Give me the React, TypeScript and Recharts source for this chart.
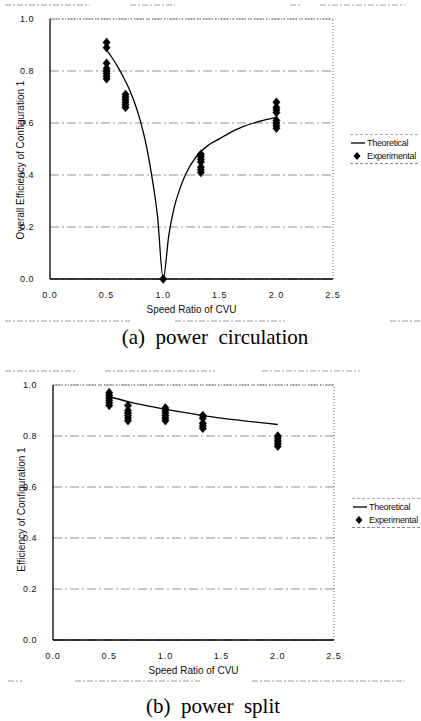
import React from "react";
import {
  ComposedChart,
  Line,
  Scatter,
  XAxis,
  YAxis,
  CartesianGrid,
  ReferenceLine,
} from "recharts";

const xTicks = [0, 0.5, 1.0, 1.5, 2.0, 2.5];
const yTicks = [0, 0.2, 0.4, 0.6, 0.8, 1.0];

// (a) power circulation
const circTheoryX = [0.5, 0.55, 0.6, 0.65, 0.7, 0.75, 0.8, 0.85, 0.9, 0.95, 1.0, 1.05, 1.1, 1.15, 1.2, 1.3, 1.4, 1.5, 1.6, 1.7, 1.8, 1.9, 2.0];
const circTheoryY = [0.88, 0.85, 0.815, 0.775, 0.73, 0.675, 0.605, 0.515, 0.395, 0.24, 0.0, 0.17, 0.28, 0.35, 0.405, 0.475, 0.515, 0.54, 0.565, 0.585, 0.6, 0.612, 0.622];
const circExpX = [
  0.5, 0.5, 0.5, 0.5, 0.5, 0.5, 0.5, 0.5,
  0.667, 0.667, 0.667, 0.667, 0.667, 0.667,
  1.0,
  1.333, 1.333, 1.333, 1.333, 1.333, 1.333, 1.333,
  2.0, 2.0, 2.0, 2.0, 2.0, 2.0, 2.0, 2.0,
];
const circExpY = [
  0.91, 0.89, 0.83, 0.81, 0.8, 0.79, 0.78, 0.77,
  0.71, 0.7, 0.69, 0.68, 0.67, 0.66,
  0.0,
  0.48, 0.47, 0.46, 0.45, 0.43, 0.42, 0.41,
  0.68, 0.66, 0.65, 0.64, 0.61, 0.6, 0.59, 0.58,
];

// (b) power split
const splitTheoryX = [0.5, 0.667, 1.0, 1.333, 1.5, 2.0];
const splitTheoryY = [0.955, 0.935, 0.905, 0.88, 0.87, 0.845];
const splitExpX = [
  0.5, 0.5, 0.5, 0.5, 0.5, 0.5,
  0.667, 0.667, 0.667, 0.667, 0.667, 0.667,
  1.0, 1.0, 1.0, 1.0, 1.0, 1.0,
  1.333, 1.333, 1.333, 1.333, 1.333,
  2.0, 2.0, 2.0, 2.0, 2.0,
];
const splitExpY = [
  0.97, 0.96, 0.95, 0.94, 0.93, 0.92,
  0.92, 0.9, 0.89, 0.88, 0.87, 0.86,
  0.91, 0.9, 0.89, 0.88, 0.87, 0.86,
  0.88, 0.87, 0.85, 0.84, 0.83,
  0.8, 0.79, 0.78, 0.77, 0.76,
];

const legendLabels = ["Theoretical", "Experimental"];

const zip = (xs: number[], ys: number[]) => xs.map((x, i) => ({ x, y: ys[i] }));

const SANS = "'Liberation Sans', Arial, sans-serif";
const SERIF = "'Liberation Serif', 'Times New Roman', serif";

const Diamond = (props: any) => {
  const { cx, cy } = props;
  if (cx == null || cy == null) return null;
  const w = 3.6;
  const h = 4.4;
  return (
    <polygon
      points={`${cx},${cy - h} ${cx + w},${cy} ${cx},${cy + h} ${cx - w},${cy}`}
      fill="#000"
      stroke="#000"
      strokeWidth={0.6}
    />
  );
};

const LegendBox = ({ top, left }: { top: number; left: number }) => (
  <div
    style={{
      position: "absolute",
      top,
      left,
      fontFamily: SANS,
      fontSize: 9,
      color: "#111",
      width: 68,
    }}
  >
    <div style={{ borderTop: "1px dashed #aaa", height: 0, marginBottom: 1 }} />
    <div style={{ display: "flex", alignItems: "center", height: 13 }}>
      <svg width={16} height={6}>
        <line x1={1} y1={3} x2={15} y2={3} stroke="#000" strokeWidth={1.3} />
      </svg>
      <span style={{ marginLeft: 1, letterSpacing: -0.3 }}>{legendLabels[0]}</span>
    </div>
    <div style={{ display: "flex", alignItems: "center", height: 13 }}>
      <svg width={16} height={10}>
        <polygon points="7,1 10.5,5 7,9 3.5,5" fill="#000" />
      </svg>
      <span style={{ marginLeft: 1, letterSpacing: -0.3 }}>{legendLabels[1]}</span>
    </div>
    <div style={{ borderTop: "1px dashed #888", height: 0, marginTop: 1 }} />
  </div>
);

type PanelProps = {
  theory: { x: number; y: number }[];
  exp: { x: number; y: number }[];
  yTitle: string;
  width: number;
  height: number;
  margin: { top: number; right: number; bottom: number; left: number };
  yAxisWidth: number;
  yTitleX: number;
  yTitleShift: number;
};

const Panel = (p: PanelProps) => (
  <ComposedChart width={p.width} height={p.height} margin={p.margin}>
    <CartesianGrid
      horizontal={true}
      vertical={false}
      stroke="#777"
      strokeDasharray="9 3 2 3"
      strokeWidth={0.8}
    />
    <XAxis
      type="number"
      dataKey="x"
      domain={[0, 2.5]}
      ticks={xTicks}
      tickFormatter={(v: number) => v.toFixed(1)}
      axisLine={{ stroke: "#000", strokeWidth: 1.3 }}
      tickLine={false}
      tickMargin={7}
      height={34}
      tick={{ fontFamily: SANS, fontSize: 9, fill: "#111", letterSpacing: 1 }}
      allowDataOverflow
      label={{
        value: "Speed Ratio of CVU",
        position: "insideBottom",
        offset: 0,
        style: { fontFamily: SANS, fontSize: 10, fill: "#111" },
      }}
    />
    <YAxis
      type="number"
      dataKey="y"
      domain={[0, 1]}
      ticks={yTicks}
      tickFormatter={(v: number) => v.toFixed(1)}
      axisLine={{ stroke: "#000", strokeWidth: 1.3 }}
      tickLine={false}
      tickMargin={10}
      width={p.yAxisWidth}
      tick={{ fontFamily: SANS, fontSize: 9, fill: "#111", letterSpacing: 0.5 }}
      label={{
        value: p.yTitle,
        content: (lp: any) => {
          const vb = lp.viewBox || {};
          const cy = (vb.y ?? 0) + (vb.height ?? 0) / 2 + p.yTitleShift;
          const cx = p.yTitleX;
          return (
            <text
              x={cx}
              y={cy}
              transform={`rotate(-90, ${cx}, ${cy})`}
              textAnchor="middle"
              dominantBaseline="central"
              fontFamily={SANS}
              fontSize={10}
              fill="#111"
            >
              {p.yTitle}
            </text>
          );
        },
      }}
    />
    <ReferenceLine y={1} stroke="#666" strokeDasharray="1 2" strokeWidth={1} />
    <ReferenceLine x={2.5} stroke="#666" strokeDasharray="1 2" strokeWidth={1} />
    <Line
      data={p.theory}
      dataKey="y"
      type="monotone"
      stroke="#000"
      strokeWidth={1.3}
      dot={false}
      isAnimationActive={false}
      name="Theoretical"
    />
    <Scatter
      data={p.exp}
      dataKey="y"
      shape={Diamond}
      isAnimationActive={false}
      name="Experimental"
    />
  </ComposedChart>
);

const ScanDashes = ({ y, segs }: { y: number; segs: [number, number][] }) => (
  <svg width={421} height={4} style={{ position: "absolute", left: 0, top: y - 2 }}>
    {segs.map(([a, b], i) => (
      <line key={i} x1={a} y1={2} x2={b} y2={2} stroke="#999" strokeWidth={1} strokeDasharray="6 2 2 2" />
    ))}
  </svg>
);

export default function App() {
  return (
    <div style={{ position: "relative", width: 421, height: 721, background: "#fff", overflow: "hidden" }}>
      <style>{"body{margin:0;background:#fff}"}</style>
      <ScanDashes y={5} segs={[[5, 90], [130, 175], [290, 300], [320, 405]]} />
      <div style={{ position: "absolute", left: 0, top: 0 }}>
        <Panel
          theory={zip(circTheoryX, circTheoryY)}
          exp={zip(circExpX, circExpY)}
          yTitle="Overall Efficiency of Configuration 1"
          width={421}
          height={330}
          margin={{ top: 19, right: 88, bottom: 17, left: 0 }}
          yAxisWidth={50}
          yTitleX={20}
          yTitleShift={11}
        />
      </div>
      <LegendBox top={134} left={350} />
      <ScanDashes y={321} segs={[[5, 130], [175, 285], [390, 420]]} />
      <div
        style={{
          position: "absolute",
          left: 0,
          top: 325,
          width: 430,
          textAlign: "center",
          fontFamily: SERIF,
          fontSize: 21,
          color: "#000",
        }}
      >
        (a)&nbsp; power&nbsp; circulation
      </div>
      <ScanDashes y={371} segs={[[5, 75], [105, 215], [262, 360]]} />
      <div style={{ position: "absolute", left: 0, top: 360 }}>
        <Panel
          theory={zip(splitTheoryX, splitTheoryY)}
          exp={zip(splitExpX, splitExpY)}
          yTitle="Efficiency of Configuration 1"
          width={421}
          height={320}
          margin={{ top: 25, right: 87, bottom: 6, left: 0 }}
          yAxisWidth={53}
          yTitleX={21}
          yTitleShift={-3}
        />
      </div>
      <LegendBox top={498} left={352} />
      <ScanDashes y={681} segs={[[8, 22], [75, 200], [252, 405]]} />
      <div
        style={{
          position: "absolute",
          left: 0,
          top: 694,
          width: 426,
          textAlign: "center",
          fontFamily: SERIF,
          fontSize: 21,
          color: "#000",
        }}
      >
        (b)&nbsp; power&nbsp; split
      </div>
    </div>
  );
}
